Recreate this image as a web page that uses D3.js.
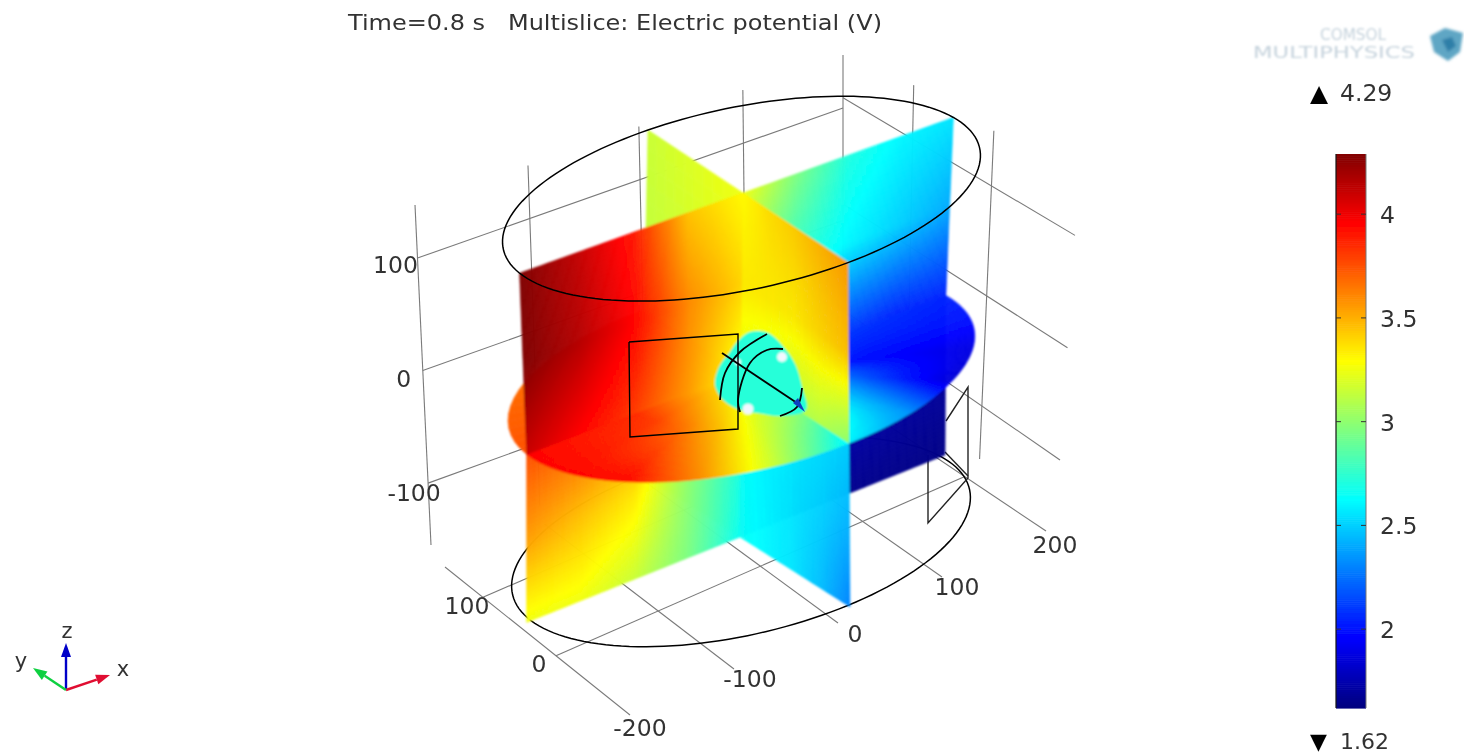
<!DOCTYPE html>
<html><head><meta charset="utf-8">
<script src="https://cdn.jsdelivr.net/npm/d3@7"></script>
<style>html,body{margin:0;background:#fff}svg{display:block}text{font-family:"DejaVu Sans",sans-serif;fill:#333}</style>
</head><body><svg id="c" width="1464" height="756"></svg>
<script>
// ---------- data ----------
const titleText = "Time=0.8 s   Multislice: Electric potential (V)";
const minValue = 1.62, maxValue = 4.29;
const barTicks = [2, 2.5, 3, 3.5, 4];
const jetStops = ["#00007f","#0000ff","#00ffff","#ffff00","#ff0000","#7f0000"];
const jetFractions = [0, .125, .375, .625, .875, 1];
const xTicks = [-200,-100,0,100,200];
const yFloorTicks = [0,100];
const ySideTicks = [100,0];
const zTicks = [100,0,-100];

const rearPlane   = [[3.15,3.25],[3.12,3.2],[3.1,3.15]];
const rightPlane  = [[3.25,2.95,2.7,2.6,2.55],[3.0,2.75,2.6,2.5,2.4],[2.7,2.35,2.1,2.05,2.05],[2.2,1.8,1.75,1.72,1.7],[2.0,1.7,1.66,1.65,1.64]];
const leftUpper   = [[4.29,4.12,3.9,3.45,3.3],[4.29,4.15,3.95,3.6,3.4],[4.1,3.95,3.8,3.55,3.25]];
const frontUpper  = [[3.3,3.38,3.43,3.5,3.56],[3.35,3.35,3.35,3.4,3.45],[3.2,3.15,3.1,3.1,3.0]];
const leftLower   = [[3.75,3.7,3.6,3.25,2.8],[3.55,3.45,3.35,3.0,2.7],[3.25,3.25,3.15,2.95,2.65]];
const frontLower  = [[2.75,2.65,2.6,2.55,2.5],[2.65,2.6,2.55,2.5,2.42],[2.65,2.6,2.55,2.45,2.3]];
const discFront   = [[3.25,3.25,3.25,3.25,3.25,3.25],[3.85,3.8,3.65,3.45,3.2,3.05],[3.95,3.95,3.95,3.6,3.15,2.6]];
const discRight   = [[2.35,2.35,2.35,2.35,2.35,2.35],[2.1,2.05,2.0,2.25,2.55,3.0],[2.05,2.0,1.88,1.85,2.35,2.6]];
const discLeft    = [[3.6,3.6],[3.6,3.75]];

// inner geometry, in scene units
const blobOutline = [[737,342],[750,332],[768,333],[786,350],[796,366],[802,387],[806,410],[780,416],[757,413],[740,410],[723,400],[715,385],[719,367],[730,352]];
const boxOutline  = [[629,342],[738,334],[738,429],[630,437],[629,342]];
const arcA = [[767,334],[740,352],[725,373],[720,400]];
const arcB = [[783,349],[767,350],[750,363],[738,400],[740,412]];
const arcC = [[780,416],[797,407],[802,388]];
const axleLine = [[722,353],[800,405]];
const tipMark = [[793,403],[805,412],[798,398]];
const paleSpots = [[782,357,5],[748,409,5.5],[738,362,3]];
const rearWireA = [[928,455],[928,523],[968,478],[968,387],[946,421]];
const rearWireB = [[945,452],[968,476]];

// ---------- camera: three rings of the cut cylinder ----------
const rings = {
 top:{c:[743,193],a:[239,-72],b:[-62.6,-56.5],p:.03,q:.05},
 mid:{c:[741.5,373],a:[228,-70],b:[-65,-48],p:.025,q:.05},
 bot:{c:[740,537],a:[223.9,-72.9],b:[-67.5,-39.6],p:.02,q:.05}
};
const lerp=(u,v,t)=>u+(v-u)*t;
function proj(nx,ny,z){
  const r0 = z>=0?rings.mid:rings.bot, r1 = z>=0?rings.top:rings.mid, t = z>=0?z:z+1;
  const f=(k,i)=>lerp(r0[k][i],r1[k][i],t);
  const w=1+lerp(r0.p,r1.p,t)*nx+lerp(r0.q,r1.q,t)*ny;
  return [(f('c',0)+nx*f('a',0)+ny*f('b',0))/w,(f('c',1)+nx*f('a',1)+ny*f('b',1))/w];
}
const svg=d3.select("#c");
const defs=svg.append("defs");
const addBlur=(id,s)=>defs.append("filter").attr("id",id).attr("filterUnits","userSpaceOnUse").attr("x",0).attr("y",0).attr("width",1464).attr("height",756).append("feGaussianBlur").attr("stdDeviation",s);
addBlur("soft",.9);addBlur("softLine",.4);addBlur("softText",.5);addBlur("logoBlur",1.4);addBlur("logoText",.9);

const jet=d3.scaleLinear().domain(jetFractions.map(f=>minValue+f*(maxValue-minValue))).range(jetStops).clamp(true);
function sample(m,u,v){
  const R=m.length-1,C=m[0].length-1;
  const r=Math.min(R-1e-6,v*R),c=Math.min(C-1e-6,u*C),i=Math.floor(r),j=Math.floor(c),a=r-i,b=c-j;
  return lerp(lerp(m[i][j],m[i][j+1],b),lerp(m[i+1][j],m[i+1][j+1],b),a);
}
const under=svg.append("g").attr("filter","url(#softLine)");
const faces=svg.append("g").attr("filter","url(#soft)");
const over=svg.append("g").attr("filter","url(#softLine)");
const line=d3.line();
function surface(m,place,nu,nv){
  const cells=[];
  for(let i=0;i<nu;i++)for(let j=0;j<nv;j++){
    const u0=i/nu,u1=(i+1)/nu,v0=j/nv,v1=(j+1)/nv;
    cells.push({d:line([place(u0,v0),place(u1,v0),place(u1,v1),place(u0,v1)])+"Z",f:jet(sample(m,(u0+u1)/2,(v0+v1)/2))});
  }
  const g=faces.append("g");
  g.selectAll("path").data(cells).join("path").attr("d",d=>d.d).attr("fill",d=>d.f).attr("stroke",d=>d.f).attr("stroke-width",.6);
}
const quad=(A,B,C,D)=>(u,v)=>[lerp(lerp(A[0],B[0],u),lerp(D[0],C[0],u),v),lerp(lerp(A[1],B[1],u),lerp(D[1],C[1],u),v)];

// ---------- grid ----------
const grid=under.append("g").attr("fill","none").attr("stroke","#7a7a7a").attr("stroke-width",1.1);
const floor=quad([630,715],[1046,531],[843,395],[445,567]);
const backWall=quad([415,205],[843,55],[843,395],[431,545]);
const sideWall=quad([843,55],[1078,190],[1054,550],[843,395]);
const fx=d3.scaleLinear().domain([-200,200]).range([0,1]);
const backX=d3.scaleLinear().domain(xTicks).range([0,.264,.523,.766,1]);
const fy=d3.scaleLinear().domain([0,100]).range([.4,.795]);
const zBack=d3.scaleLinear().domain([100,-100]).range([.156,.818]);
const zSide=d3.scaleLinear().domain([100,-100]).range([.126,.75]);
const ySide=d3.scaleLinear().domain([200,100,0]).range([0,.3,.64]);
xTicks.forEach(x=>grid.append("path").attr("d",line([floor(fx(x),0),floor(fx(x),1)])));
yFloorTicks.forEach(y=>grid.append("path").attr("d",line([floor(0,fy(y)),floor(1,fy(y))])));
xTicks.forEach(x=>grid.append("path").attr("d",line([backWall(backX(x),0),backWall(backX(x),1)])));
zTicks.forEach(z=>grid.append("path").attr("d",line([backWall(0,zBack(z)),backWall(1,zBack(z))])));
zTicks.forEach(z=>grid.append("path").attr("d",line([sideWall(0,zSide(z)),sideWall(1,zSide(z))])));
ySideTicks.forEach(y=>grid.append("path").attr("d",line([sideWall(ySide(y),-.03),sideWall(ySide(y),.9)])));

// rings
const circle=(z,rad,n=160)=>d3.range(n+1).map(i=>{const t=2*Math.PI*i/n;return proj(rad*Math.cos(t),rad*Math.sin(t),z)});
under.append("path").attr("d",line(circle(-1,.98))).attr("fill","none").attr("stroke","#000").attr("stroke-width",1.5);
const wires=under.append("g").attr("fill","none").attr("stroke","#222").attr("stroke-width",1.4);
[rearWireA,rearWireB].forEach(w=>wires.append("path").attr("d",line(w)));

// ---------- slices, back to front ----------
surface(rearPlane,(u,v)=>proj(0,1-u,1-2*v),10,20);
surface(rightPlane,(u,v)=>proj(u,0,1-2*v),60,80);
const disc=(t0,t1)=>(u,v)=>{const t=lerp(t0,t1,u);return proj(v*Math.cos(t),v*Math.sin(t),0)};
surface(discLeft,disc(Math.PI/2,Math.PI),20,12);
surface(leftLower,(u,v)=>proj(u-1,0,-v),60,40);
surface(frontLower,(u,v)=>proj(0,-u,-v),40,40);
surface(discRight,disc(0,-Math.PI/2),72,48);
surface(discFront,disc(Math.PI,1.5*Math.PI),90,48);
surface(leftUpper,(u,v)=>proj(u-1,0,1-v),70,48);
surface(frontUpper,(u,v)=>proj(0,-u,1-v),40,48);

// ---------- inner object ----------
const closed=d3.line().curve(d3.curveCatmullRomClosed.alpha(.5));
const smooth=d3.line().curve(d3.curveCatmullRom.alpha(.5));
faces.append("path").attr("d",closed(blobOutline)).attr("fill",jet(2.72));
faces.selectAll("circle.spot").data(paleSpots).join("circle").attr("class","spot")
  .attr("cx",d=>d[0]).attr("cy",d=>d[1]).attr("r",d=>d[2]).attr("fill","#f2f8ff");
const inner=over.append("g").attr("fill","none").attr("stroke","#000").attr("stroke-width",1.8);
inner.append("path").attr("d",line(boxOutline)).attr("stroke-width",1.4);
[arcA,arcB,arcC].forEach(a=>inner.append("path").attr("d",smooth(a)));
inner.append("path").attr("d",line(axleLine));
over.append("path").attr("d",line(tipMark)+"Z").attr("fill","#1040c0");

// top ring drawn over everything
over.append("path").attr("d",line(circle(1,1))).attr("fill","none").attr("stroke","#000").attr("stroke-width",1.5);

// ---------- text ----------
const txt=svg.append("g").attr("filter","url(#softText)");
txt.append("text").attr("x",348).attr("y",30).attr("font-size",21).attr("textLength",534).attr("lengthAdjust","spacingAndGlyphs").style("white-space","pre").text(titleText);
const tickSize=23.5;
const label=(s,x,y)=>txt.append("text").attr("x",x).attr("y",y).attr("text-anchor","middle").attr("font-size",tickSize).text(s);
const xOff={"-200":[10,21],"-100":[16,18],"0":[17,19],"100":[15,18],"200":[9,22]};
xTicks.forEach(x=>{const p=floor(fx(x),0);label(x,p[0]+xOff[x][0],p[1]+xOff[x][1])});
yFloorTicks.forEach(y=>{const p=floor(0,fy(y));label(y,p[0]+(y===0?-17:-16),p[1]+(y===0?16:17))});
const zOff={"100":[-22,15],"0":[-19,16],"-100":[-14,18]};
zTicks.forEach(z=>{const p=backWall(0,zBack(z));label(z,p[0]+zOff[z][0],p[1]+zOff[z][1])});

// ---------- colour bar ----------
const bar=svg.append("g").attr("filter","url(#softText)");
const barY=d3.scaleLinear().domain([minValue,maxValue]).range([708,154]);
const barCells=d3.range(minValue,maxValue,.01);
bar.selectAll("rect").data(barCells).join("rect").attr("x",1336).attr("width",30)
  .attr("y",d=>barY(d+.01)).attr("height",d=>barY(d)-barY(d+.01)+.6).attr("fill",d=>jet(d));
bar.append("line").attr("x1",1336).attr("x2",1336).attr("y1",154).attr("y2",708).attr("stroke","#111").attr("stroke-width",1.2);
bar.append("line").attr("x1",1366).attr("x2",1366).attr("y1",154).attr("y2",708).attr("stroke","#777").attr("stroke-width",1);
barTicks.forEach(t=>{
  bar.append("line").attr("x1",1336).attr("x2",1341).attr("y1",barY(t)).attr("y2",barY(t)).attr("stroke","#333");
  bar.append("line").attr("x1",1361).attr("x2",1366).attr("y1",barY(t)).attr("y2",barY(t)).attr("stroke","#333");
  txt.append("text").attr("x",1380).attr("y",barY(t)+9).attr("font-size",tickSize).text(t);
});
const endLabel=(g,v,y,fs)=>{
  txt.append("text").attr("x",1310).attr("y",y).attr("font-size",fs).style("fill","#000").text(g);
  txt.append("text").attr("x",1340).attr("y",y).attr("font-size",fs).text(v);
};
endLabel("▲",maxValue,101,23.5);
endLabel("▼",minValue,749,22);

// ---------- logo ----------
const logo=svg.append("g");
logo.append("g").attr("filter","url(#logoText)").selectAll("text").data([["COMSOL",1386,40,15],["MULTIPHYSICS",1415,58,15]]).join("text")
  .attr("x",d=>d[1]).attr("y",d=>d[2]).attr("text-anchor","end").attr("font-size",d=>d[3]).style("fill","#c5d2dc").attr("textLength",(d,i)=>i?162:66).attr("lengthAdjust","spacingAndGlyphs").text(d=>d[0]);
const cube=logo.append("g").attr("filter","url(#logoBlur)");
cube.append("path").attr("d",line([[1430,36],[1445,28],[1463,33],[1460,52],[1448,61],[1434,52]])+"Z").attr("fill","#5fa6c4");
cube.append("path").attr("d",line([[1442,40],[1452,37],[1456,46],[1448,52]])+"Z").attr("fill","#2f7fa8");

// ---------- triad ----------
const triad=svg.append("g").attr("filter","url(#softText)");
const triadArrows=[{to:[66,643],c:"#0000c8"},{to:[110,675],c:"#e01030"},{to:[33,668],c:"#10d040"}];
const o=[66,690];
triadArrows.forEach(a=>{
  const dx=a.to[0]-o[0],dy=a.to[1]-o[1],L=Math.hypot(dx,dy),ux=dx/L,uy=dy/L,bx=a.to[0]-ux*14,by=a.to[1]-uy*14;
  triad.append("line").attr("x1",o[0]).attr("y1",o[1]).attr("x2",bx).attr("y2",by).attr("stroke",a.c).attr("stroke-width",2.4);
  triad.append("path").attr("d",line([a.to,[bx-uy*5,by+ux*5],[bx+uy*5,by-ux*5]])+"Z").attr("fill",a.c);
});
[["z",67,638],["y",21,668],["x",123,676]].forEach(d=>triad.append("text").attr("x",d[1]).attr("y",d[2]).attr("text-anchor","middle").attr("font-size",21).text(d[0]));
</script></body></html>
